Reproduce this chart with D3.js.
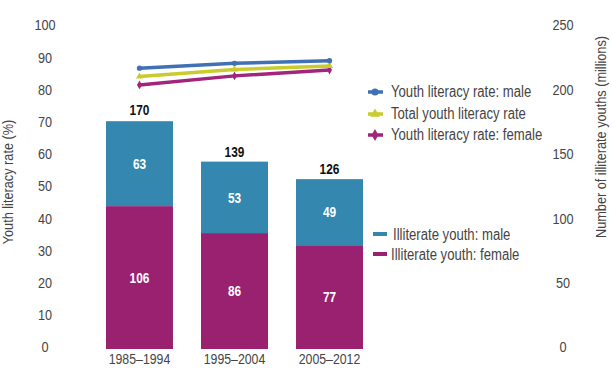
<!DOCTYPE html>
<head>
  <meta charset="utf-8">
  <title>Youth literacy</title>
  <style>
    body { margin: 0; background: #fff; }
    text { font-family: "Liberation Sans", Arial, sans-serif; }
  </style>
</head>
<body>
<script src="https://d3js.org/d3.v7.min.js"></script>
<div id="chart"></div>
<script>
// data
var periods = ["1985–1994", "1995–2004", "2005–2012"];
var illitFemale = [106, 86, 77];
var illitMale = [63, 53, 49];
var illitTotal = [170, 139, 126];
var rateMale = [86.6, 88.1, 88.9];
var rateTotal = [84.0, 86.2, 87.3];
var rateFemale = [81.4, 84.2, 86.0];
var leftTicks = [0, 10, 20, 30, 40, 50, 60, 70, 80, 90, 100];
var rightTicks = [0, 50, 100, 150, 200, 250];

var width = 612, height = 368;
var grey = "#444";
var cMaleBar = "#3487ae", cFemaleBar = "#9a216f";
var cMaleLine = "#3f71b4", cTotalLine = "#c9cc2c", cFemaleLine = "#a3247c";

var svg = d3.select("#chart").append("svg")
    .attr("width", width)
    .attr("height", height);

var x = d3.scaleBand()
    .domain(periods)
    .range([106, 363])
    .paddingInner(0.295)
    .paddingOuter(0);

var yLeft = d3.scaleLinear().domain([0, 100]).range([347, 25]);
var yRight = d3.scaleLinear().domain([0, 250]).range([347, 25]);
// the bars in the original sit on a slightly taller scale than the right axis labels
var yBar = d3.scaleLinear().domain([0, 250]).range([349, 12]);

// axes (labels only)
var gl = svg.append("g")
    .attr("transform", "translate(45,0)")
    .call(d3.axisLeft(yLeft).tickValues(leftTicks).tickSize(0).tickPadding(0));
var gr = svg.append("g")
    .attr("transform", "translate(563,0)")
    .call(d3.axisRight(yRight).tickValues(rightTicks).tickSize(0).tickPadding(0));
[gl, gr].forEach(function(g) {
  g.select(".domain").remove();
  g.selectAll("text")
    .attr("text-anchor", "middle")
    .attr("fill", grey)
    .style("font-size", "15.5px")
    .style("font-family", "'Liberation Sans', Arial, sans-serif");
});

svg.append("text")
    .attr("transform", "translate(13,182) rotate(-90)")
    .attr("text-anchor", "middle")
    .attr("fill", grey)
    .style("font-size", "15.5px")
    .text("Youth literacy rate (%)");

svg.append("text")
    .attr("transform", "translate(606,137) rotate(-90)")
    .attr("text-anchor", "middle")
    .attr("fill", grey)
    .style("font-size", "15.5px")
    .text("Number of illiterate youths (millions)");

// stacked bars
var rows = periods.map(function(p, i) {
  return { period: p, female: illitFemale[i], male: illitMale[i], total: illitTotal[i] };
});
var stack = d3.stack().keys(["female", "male"])(rows);
var colors = { female: cFemaleBar, male: cMaleBar };

var layers = svg.selectAll(".layer")
    .data(stack)
  .enter().append("g")
    .attr("class", "layer")
    .attr("fill", function(d) { return colors[d.key]; });

layers.selectAll("rect")
    .data(function(d) { return d; })
  .enter().append("rect")
    .attr("x", function(d) { return x(d.data.period); })
    .attr("width", x.bandwidth())
    .attr("y", function(d) { return yBar(d[1]); })
    .attr("height", function(d) { return yBar(d[0]) - yBar(d[1]); });

layers.selectAll("text")
    .data(function(d) { return d; })
  .enter().append("text")
    .attr("x", function(d) { return x(d.data.period) + x.bandwidth() / 2; })
    .attr("y", function(d) { return (yBar(d[0]) + yBar(d[1])) / 2; })
    .attr("dy", "0.36em")
    .attr("text-anchor", "middle")
    .attr("fill", "#fff")
    .style("font-size", "14.5px")
    .style("font-weight", "bold")
    .text(function(d) { return d[1] - d[0]; });

svg.selectAll(".total")
    .data(rows)
  .enter().append("text")
    .attr("class", "total")
    .attr("x", function(d) { return x(d.period) + x.bandwidth() / 2; })
    .attr("y", function(d) { return yBar(d.total) - 10; })
    .attr("dy", "0.36em")
    .attr("text-anchor", "middle")
    .attr("fill", "#111")
    .style("font-size", "14.5px")
    .style("font-weight", "bold")
    .text(function(d) { return d.total; });

// x labels
svg.selectAll(".xlab")
    .data(periods)
  .enter().append("text")
    .attr("class", "xlab")
    .attr("x", function(d) { return x(d) + x.bandwidth() / 2; })
    .attr("y", 359)
    .attr("dy", "0.36em")
    .attr("text-anchor", "middle")
    .attr("fill", grey)
    .style("font-size", "15px")
    .text(function(d) { return d; });

// literacy rate lines
var series = [
  { name: "Youth literacy rate: male", values: rateMale, color: cMaleLine, symbol: d3.symbolCircle },
  { name: "Total youth literacy rate", values: rateTotal, color: cTotalLine, symbol: d3.symbolTriangle },
  { name: "Youth literacy rate: female", values: rateFemale, color: cFemaleLine, symbol: d3.symbolDiamond }
];

var line = d3.line()
    .x(function(d, i) { return x(periods[i]) + x.bandwidth() / 2; })
    .y(function(d) { return yLeft(d); });

series.slice().reverse().forEach(function(s) {
  svg.append("path")
      .attr("d", line(s.values))
      .attr("fill", "none")
      .attr("stroke", s.color)
      .attr("stroke-width", 3.5);
  svg.selectAll(null)
      .data(s.values)
    .enter().append("path")
      .attr("transform", function(d, i) {
        return "translate(" + (x(periods[i]) + x.bandwidth() / 2) + "," + yLeft(d) + ")";
      })
      .attr("d", d3.symbol().type(s.symbol).size(22))
      .attr("fill", s.color);
});

// legend: lines
var legLines = svg.selectAll(".legl")
    .data(series)
  .enter().append("g")
    .attr("class", "legl")
    .attr("transform", function(d, i) { return "translate(375," + [92, 114, 135][i] + ")"; });
legLines.append("line")
    .attr("x1", -7).attr("x2", 8)
    .attr("stroke", function(d) { return d.color; })
    .attr("stroke-width", 3.5);
legLines.append("path")
    .attr("d", function(d) { return d3.symbol().type(d.symbol).size(40)(); })
    .attr("fill", function(d) { return d.color; });
legLines.append("text")
    .attr("x", 16)
    .attr("y", -1)
    .attr("dy", "0.36em")
    .attr("fill", grey)
    .style("font-size", "16px")
    .text(function(d) { return d.name; });

// legend: bars
var barLegend = [
  { name: "Illiterate youth: male", color: cMaleBar, y: 234, tx: 393 },
  { name: "Illiterate youth: female", color: cFemaleBar, y: 254, tx: 391 }
];
var legBars = svg.selectAll(".legb")
    .data(barLegend)
  .enter().append("g")
    .attr("class", "legb");
legBars.append("rect")
    .attr("x", 373)
    .attr("y", function(d) { return d.y - 2; })
    .attr("width", 14)
    .attr("height", 4)
    .attr("fill", function(d) { return d.color; });
legBars.append("text")
    .attr("x", function(d) { return d.tx; })
    .attr("y", function(d) { return d.y; })
    .attr("dy", "0.36em")
    .attr("fill", grey)
    .style("font-size", "16px")
    .text(function(d) { return d.name; });

// squeeze every label to a condensed face, like the original's narrow type
svg.selectAll("text").each(function() {
  var w = this.getComputedTextLength();
  this.setAttribute("textLength", (w * 0.82).toFixed(1));
  this.setAttribute("lengthAdjust", "spacingAndGlyphs");
});
</script>
</body>
